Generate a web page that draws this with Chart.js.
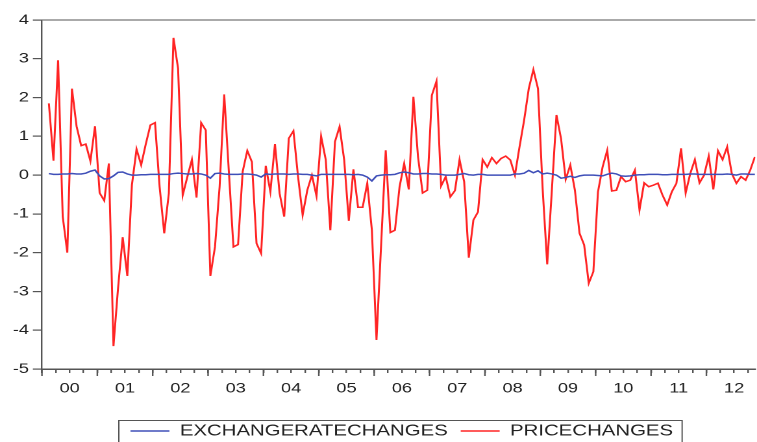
<!DOCTYPE html>
<html>
<head>
<meta charset="utf-8">
<script src="https://cdn.jsdelivr.net/npm/chart.js@4.4.1/dist/chart.umd.min.js"></script>
<style>
  html, body { margin: 0; padding: 0; background: #fff; overflow: hidden; }
  #wrap { width: 757px; height: 442px; overflow: hidden; }
  /* the source picture is a horizontally stretched EViews graph */
  #chart { display: block; transform: scaleX(1.2985); transform-origin: 0 0; }
</style>
</head>
<body>
<div id="wrap"><canvas id="chart" width="583" height="442"></canvas></div>
<script>
var yearLabels = ['00', '01', '02', '03', '04', '05', '06', '07', '08', '09', '10', '11', '12'];

// monthly, first observation 2000M02 (months counted from 2000M01 = 0)
var firstMonth = 1;

var priceChanges = [
          1.85, 0.37, 2.96, -1.07, -2.0, 2.23, 1.26, 0.76, 0.8, 0.36, 1.26,    // 2000
  -0.46, -0.66, 0.3, -4.41, -2.9, -1.6, -2.6, -0.25, 0.67, 0.26, 0.8, 1.29,   // 2001
  1.35, -0.3, -1.5, -0.47, 3.54, 2.75, -0.52, -0.05, 0.4, -0.58, 1.35, 1.16,  // 2002
  -2.6, -1.85, -0.3, 2.08, 0.1, -1.85, -1.79, 0.09, 0.63, 0.34, -1.76, -2.02, // 2003
  0.24, -0.43, 0.8, -0.47, -1.07, 0.95, 1.14, -0.04, -1.03, -0.39, 0.0, -0.54, // 2004
  1.0, 0.4, -1.42, 0.86, 1.25, 0.39, -1.18, 0.15, -0.83, -0.83, -0.21, -1.42, // 2005
  -4.25, -1.8, 0.64, -1.48, -1.42, -0.3, 0.3, -0.37, 2.02, 0.47, -0.46, -0.39, // 2006
  2.06, 2.42, -0.28, -0.04, -0.56, -0.4, 0.4, -0.17, -2.13, -1.16, -0.95, 0.4, // 2007
  0.21, 0.45, 0.3, 0.43, 0.49, 0.39, 0.0, 0.73, 1.42, 2.23, 2.72, 2.23,       // 2008
  -0.34, -2.3, -0.4, 1.55, 0.94, -0.11, 0.26, -0.39, -1.5, -1.8, -2.79, -2.49, // 2009
  -0.43, 0.21, 0.64, -0.41, -0.39, -0.04, -0.17, -0.13, 0.13, -0.9, -0.2, -0.3, // 2010
  -0.26, -0.21, -0.52, -0.77, -0.43, -0.21, 0.69, -0.46, 0.04, 0.4, -0.2, 0.0, // 2011
  0.49, -0.37, 0.63, 0.4, 0.73, 0.04, -0.21, -0.04, -0.13, 0.13, 0.47          // 2012
];

var exchangeRateChanges = [
         0.04, 0.02, 0.02, 0.03, 0.03, 0.04, 0.03, 0.03, 0.05, 0.1, 0.13,     // 2000
  -0.02, -0.1, -0.09, -0.02, 0.07, 0.08, 0.03, 0.0, 0.0, 0.01, 0.01, 0.02,    // 2001
  0.02, 0.02, 0.02, 0.02, 0.04, 0.05, 0.04, 0.03, 0.03, 0.04, 0.03, 0.0,      // 2002
  -0.08, 0.04, 0.05, 0.03, 0.02, 0.02, 0.02, 0.03, 0.03, 0.02, 0.0, -0.05,    // 2003
  0.03, 0.02, 0.03, 0.03, 0.03, 0.02, 0.03, 0.03, 0.02, 0.02, 0.0, -0.02,     // 2004
  0.02, 0.02, 0.02, 0.02, 0.02, 0.02, 0.02, 0.01, 0.02, 0.0, -0.05, -0.15,    // 2005
  -0.02, 0.0, 0.01, 0.01, 0.02, 0.06, 0.08, 0.06, 0.03, 0.03, 0.04, 0.04,     // 2006
  0.03, 0.03, 0.02, 0.0, 0.0, 0.0, 0.02, 0.04, 0.01, 0.0, 0.02, 0.02,         // 2007
  0.0, 0.0, 0.0, 0.0, 0.0, 0.0, 0.03, 0.03, 0.05, 0.12, 0.06, 0.11,           // 2008
  0.03, 0.05, 0.03, 0.0, -0.08, -0.06, -0.03, -0.06, -0.02, 0.0, 0.0, 0.0,    // 2009
  -0.01, -0.02, 0.02, 0.05, 0.03, -0.02, -0.03, -0.02, 0.0, 0.01, 0.01, 0.02, // 2010
  0.02, 0.02, 0.01, 0.01, 0.02, 0.02, 0.02, 0.02, 0.03, 0.03, 0.02, 0.02,     // 2011
  0.02, 0.02, 0.02, 0.02, 0.03, 0.02, 0.0, 0.03, 0.03, 0.02, 0.02            // 2012
];

var FONT = '"Liberation Sans", Arial, sans-serif';

function toPoints(values) {
  return values.map(function(v, i) {
    return { x: firstMonth + i + 0.5, y: v };
  });
}

// top frame line, longer year ticks and the boxed legend
var eviewsPlugin = {
  id: 'eviews',
  afterDraw: function(chart) {
    var ctx = chart.ctx;
    var area = chart.chartArea;
    var xs = chart.scales.x;
    ctx.save();

    ctx.strokeStyle = '#777';
    ctx.lineWidth = 1.3;
    ctx.beginPath();
    ctx.moveTo(area.left, area.top);
    ctx.lineTo(area.right, area.top);
    ctx.stroke();

    ctx.strokeStyle = '#555';
    ctx.lineWidth = 1.2;
    for (var m = 0; m <= xs.max; m += 12) {
      var px = xs.getPixelForValue(m);
      ctx.beginPath();
      ctx.moveTo(px, area.bottom);
      ctx.lineTo(px, area.bottom + 7);
      ctx.stroke();
    }

    // legend
    ctx.font = '15.7px ' + FONT;
    ctx.textBaseline = 'middle';
    var sets = chart.data.datasets;
    var left = 91.5, midY = 431;
    var width = 9;
    sets.forEach(function(d, i) {
      width += 38 + ctx.measureText(d.label).width + (i < sets.length - 1 ? 10 : 7);
    });
    ctx.strokeStyle = '#555';
    ctx.lineWidth = 1;
    ctx.strokeRect(left, 420.5, width, 40);

    var cx = left + 9;
    sets.forEach(function(d) {
      ctx.strokeStyle = d.borderColor;
      ctx.lineWidth = 1.4;
      ctx.beginPath();
      ctx.moveTo(cx, midY);
      ctx.lineTo(cx + 30, midY);
      ctx.stroke();
      cx += 38;
      ctx.fillStyle = '#222';
      ctx.fillText(d.label, cx, midY);
      cx += ctx.measureText(d.label).width + 10;
    });
    ctx.restore();
  }
};

var ctx = document.getElementById('chart');
var chart = new Chart(ctx, {
  type: 'line',
  plugins: [eviewsPlugin],
  data: {
    datasets: [
      {
        label: 'EXCHANGERATECHANGES',
        data: toPoints(exchangeRateChanges),
        borderColor: '#3f4fb8',
        borderWidth: 1.5
      },
      {
        label: 'PRICECHANGES',
        data: toPoints(priceChanges),
        borderColor: '#ff2424',
        borderWidth: 1.5
      }
    ]
  },
  options: {
    responsive: false,
    animation: false,
    devicePixelRatio: 2,
    layout: { padding: { top: 20, right: 0, bottom: 0, left: 0 } },
    elements: {
      point: { radius: 0 },
      line: { tension: 0 }
    },
    plugins: {
      legend: { display: false },
      tooltip: { enabled: false }
    },
    scales: {
      x: {
        type: 'linear',
        min: 0,
        max: 154.6,
        afterBuildTicks: function(scale) {
          var t = [];
          for (var m = 0; m <= scale.max; m += 3) t.push({ value: m });
          scale.ticks = t;
        },
        afterFit: function(scale) { scale.height = 73; },
        ticks: {
          autoSkip: false,
          maxRotation: 0,
          padding: 7,
          color: '#222',
          font: { family: FONT, size: 14 },
          callback: function(v) {
            return v % 12 === 6 ? yearLabels[(v - 6) / 12] : '';
          }
        },
        grid: { drawOnChartArea: false, tickLength: 4, color: '#555', lineWidth: 1.2 },
        border: { color: '#555', width: 1.5 }
      },
      y: {
        min: -5,
        max: 4,
        afterFit: function(scale) { scale.width = 32.3; },
        ticks: {
          stepSize: 1,
          padding: 3,
          color: '#222',
          font: { family: FONT, size: 14 }
        },
        grid: { drawOnChartArea: false, tickLength: 7, color: '#555', lineWidth: 1.2 },
        border: { color: '#555', width: 1.2 }
      }
    }
  }
});
</script>
</body>
</html>
